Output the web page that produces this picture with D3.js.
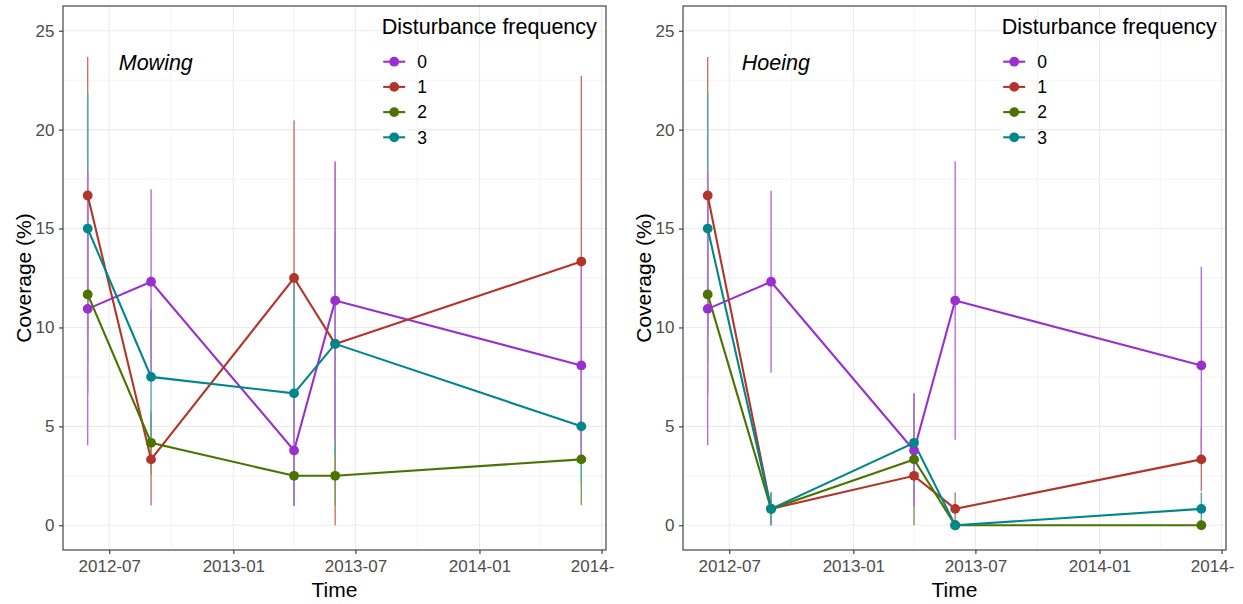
<!DOCTYPE html>
<html>
<head>
<meta charset="utf-8">
<script src="https://cdn.jsdelivr.net/npm/d3@7"></script>
<style>
  html, body { margin: 0; padding: 0; background: #ffffff; }
  svg { display: block; font-family: "Liberation Sans", Arial, sans-serif; }
</style>
</head>
<body>
<svg id="chart" width="1243" height="604"></svg>
<script>
// ---------------- data ----------------
const dates = ["2012-05-30", "2012-09-01", "2013-04-01", "2013-06-01", "2014-06-01"];
const frequencies = ["0", "1", "2", "3"];
const panelNames = ["Mowing", "Hoeing"];
const xTickLabels = ["2012-07", "2013-01", "2013-07", "2014-01", "2014-07"];
const xMinorTicks = ["2012-10", "2013-04", "2013-10", "2014-04"];
const yTicks = [0, 5, 10, 15, 20, 25];
const yMinorTicks = [2.5, 7.5, 12.5, 17.5, 22.5];

// Mowing: mean coverage per frequency
const mowing0 = [10.94, 12.31, 3.78, 11.36, 8.08];
const mowing1 = [16.67, 3.33, 12.5, 9.17, 13.33];
const mowing2 = [11.67, 4.17, 2.5, 2.5, 3.33];
const mowing3 = [15.0, 7.5, 6.67, 9.17, 5.0];
// Mowing: error half-widths
const mowingErr0 = [6.9, 4.68, 2.81, 7.04, 4.99];
const mowingErr1 = [7.0, 2.33, 7.96, 9.17, 9.4];
const mowingErr2 = [5.0, 1.6, 1.5, 1.5, 2.31];
const mowingErr3 = [6.8, 3.45, 5.7, 5.59, 2.85];

// Hoeing: mean coverage per frequency
const hoeing0 = [10.94, 12.31, 3.78, 11.36, 8.08];
const hoeing1 = [16.67, 0.83, 2.5, 0.83, 3.33];
const hoeing2 = [11.67, 0.83, 3.33, 0, 0];
const hoeing3 = [15.0, 0.83, 4.17, 0, 0.83];
// Hoeing: error half-widths
const hoeingErr0 = [6.9, 4.6, 2.87, 7.04, 4.99];
const hoeingErr1 = [7.0, 0.83, 1.5, 0.83, 1.6];
const hoeingErr2 = [5.0, 0.83, 3.33, 0, 0];
const hoeingErr3 = [6.8, 0.83, 2.5, 0, 0.83];

const colors = ["#9a2fd0", "#b2352a", "#4a7300", "#00868b"];

// ---------------- layout ----------------
const parse = d3.timeParse("%Y-%m-%d");
const parseM = d3.timeParse("%Y-%m");
const panelW = 614, panelOffset = 620;
const plot = { left: 63, right: 606, top: 6, bottom: 550 };
const errColors = colors.map(c => d3.interpolateRgb(c, "#ffffff")(0.3));

const panels = [
  { name: panelNames[0], means: [mowing0, mowing1, mowing2, mowing3], errs: [mowingErr0, mowingErr1, mowingErr2, mowingErr3] },
  { name: panelNames[1], means: [hoeing0, hoeing1, hoeing2, hoeing3], errs: [hoeingErr0, hoeingErr1, hoeingErr2, hoeingErr3] }
];

const dts = dates.map(parse);
const dExt = d3.extent(dts);
const span = dExt[1] - dExt[0];
const x = d3.scaleTime()
  .domain([new Date(+dExt[0] - 0.05 * span), new Date(+dExt[1] + 0.05 * span)])
  .range([plot.left, plot.right]);
const y = d3.scaleLinear().domain([-1.25, 26.25]).range([plot.bottom, plot.top]);

const svg = d3.select("#chart");
const defs = svg.append("defs");
defs.append("clipPath").attr("id", "panelclip")
  .append("rect").attr("x", 0).attr("y", 0).attr("width", panelW).attr("height", 604);
defs.append("clipPath").attr("id", "plotclip")
  .append("rect").attr("x", plot.left).attr("y", plot.top)
  .attr("width", plot.right - plot.left).attr("height", plot.bottom - plot.top);

const errOrder = [1, 2, 3, 0];

panels.forEach((p, pi) => {
  const g = svg.append("g").attr("transform", `translate(${pi * panelOffset},0)`)
    .append("g").attr("clip-path", "url(#panelclip)");

  g.append("rect").attr("x", plot.left).attr("y", plot.top)
    .attr("width", plot.right - plot.left).attr("height", plot.bottom - plot.top)
    .attr("fill", "#ffffff");

  // grid
  const grid = g.append("g");
  grid.selectAll("line.ymin").data(yMinorTicks).join("line")
    .attr("x1", plot.left).attr("x2", plot.right)
    .attr("y1", d => y(d)).attr("y2", d => y(d))
    .attr("stroke", "#ebebeb").attr("stroke-width", 0.6);
  grid.selectAll("line.xmin").data(xMinorTicks.map(parseM)).join("line")
    .attr("y1", plot.top).attr("y2", plot.bottom)
    .attr("x1", d => x(d)).attr("x2", d => x(d))
    .attr("stroke", "#ebebeb").attr("stroke-width", 0.6);
  grid.selectAll("line.ymaj").data(yTicks).join("line")
    .attr("x1", plot.left).attr("x2", plot.right)
    .attr("y1", d => y(d)).attr("y2", d => y(d))
    .attr("stroke", "#ebebeb").attr("stroke-width", 1.1);
  grid.selectAll("line.xmaj").data(xTickLabels.map(parseM)).join("line")
    .attr("y1", plot.top).attr("y2", plot.bottom)
    .attr("x1", d => x(d)).attr("x2", d => x(d))
    .attr("stroke", "#ebebeb").attr("stroke-width", 1.1);

  const dataG = g.append("g").attr("clip-path", "url(#plotclip)");

  // error bars
  errOrder.forEach(si => {
    dataG.append("g").selectAll("line").data(dts.map((d, i) => ({ d, m: p.means[si][i], e: p.errs[si][i] })))
      .join("line")
      .attr("x1", d => x(d.d)).attr("x2", d => x(d.d))
      .attr("y1", d => y(d.m - d.e)).attr("y2", d => y(d.m + d.e))
      .attr("stroke", errColors[si]).attr("stroke-width", 1.4);
  });

  // lines
  const lineGen = d3.line().x(d => x(d.d)).y(d => y(d.m));
  frequencies.forEach((f, si) => {
    dataG.append("path")
      .datum(dts.map((d, i) => ({ d, m: p.means[si][i] })))
      .attr("d", lineGen)
      .attr("fill", "none").attr("stroke", colors[si]).attr("stroke-width", 2.1);
  });
  // points
  frequencies.forEach((f, si) => {
    dataG.append("g").selectAll("circle").data(dts.map((d, i) => ({ d, m: p.means[si][i] })))
      .join("circle")
      .attr("cx", d => x(d.d)).attr("cy", d => y(d.m)).attr("r", 4.9)
      .attr("fill", colors[si]);
  });

  // annotation
  g.append("text")
    .attr("x", x(parse("2012-09-08"))).attr("y", y(23.4))
    .attr("dy", "0.35em")
    .attr("text-anchor", "middle")
    .attr("font-style", "italic").attr("font-size", 21.5).attr("fill", "#000")
    .text(p.name);

  // legend
  const leg = g.append("g").attr("transform", "translate(381.7,0)");
  leg.append("text").attr("x", 0).attr("y", 34.3)
    .attr("font-size", 21.5).attr("fill", "#000").text("Disturbance frequency");
  frequencies.forEach((f, si) => {
    const cy = 61.7 + si * 25.2;
    leg.append("rect").attr("x", 0).attr("y", cy - 12.6).attr("width", 25).attr("height", 25.2).attr("fill", "#fff");
    leg.append("line").attr("x1", 1.5).attr("x2", 23.5).attr("y1", cy).attr("y2", cy)
      .attr("stroke", colors[si]).attr("stroke-width", 2.1);
    leg.append("circle").attr("cx", 12.5).attr("cy", cy).attr("r", 4.9).attr("fill", colors[si]);
    leg.append("text").attr("x", 35.5).attr("y", cy).attr("dy", "0.36em")
      .attr("font-size", 17.5).attr("fill", "#000").text(f);
  });

  // border
  g.append("rect").attr("x", plot.left).attr("y", plot.top)
    .attr("width", plot.right - plot.left).attr("height", plot.bottom - plot.top)
    .attr("fill", "none").attr("stroke", "#333333").attr("stroke-width", 1.1);

  // axes
  const yAxis = d3.axisLeft(y).tickValues(yTicks).tickSize(4).tickPadding(4.5).tickFormat(d3.format("d"));
  const ya = g.append("g").attr("transform", `translate(${plot.left},0)`).call(yAxis);
  ya.select(".domain").remove();
  ya.selectAll(".tick line").attr("stroke", "#333333").attr("stroke-width", 1.1);
  ya.selectAll(".tick text").attr("font-size", 17).attr("fill", "#4d4d4d")
    .attr("font-family", "'Liberation Sans', Arial, sans-serif");

  const xAxis = d3.axisBottom(x).tickValues(xTickLabels.map(parseM)).tickSize(4).tickPadding(6)
    .tickFormat(d3.timeFormat("%Y-%m"));
  const xa = g.append("g").attr("transform", `translate(0,${plot.bottom})`).call(xAxis);
  xa.select(".domain").remove();
  xa.selectAll(".tick line").attr("stroke", "#333333").attr("stroke-width", 1.1);
  xa.selectAll(".tick text").attr("font-size", 17).attr("fill", "#4d4d4d")
    .attr("font-family", "'Liberation Sans', Arial, sans-serif");

  // axis titles
  g.append("text").attr("x", (plot.left + plot.right) / 2).attr("y", 597)
    .attr("text-anchor", "middle").attr("font-size", 21).attr("fill", "#000").text("Time");
  g.append("text").attr("transform", `translate(30.5,${(plot.top + plot.bottom) / 2}) rotate(-90)`)
    .attr("text-anchor", "middle").attr("font-size", 21).attr("fill", "#000").text("Coverage (%)");
});
</script>
</body>
</html>
